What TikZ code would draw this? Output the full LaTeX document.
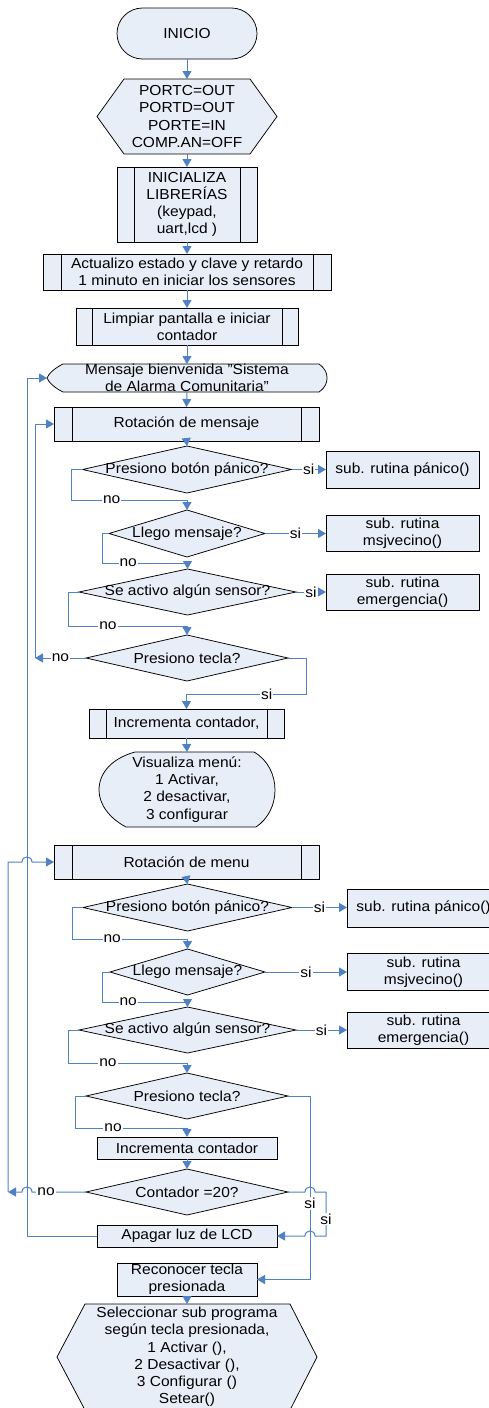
\documentclass[tikz,border=0pt]{standalone}
\usepackage{fontspec}
\setmainfont{Liberation Sans}[FakeStretch=1.07]
\usetikzlibrary{arrows.meta,calc,backgrounds}
\definecolor{shapefill}{RGB}{232,238,248}
\definecolor{flow}{RGB}{79,129,196}
\begin{document}
\begin{tikzpicture}[x=1pt,y=-1pt,
  font=\fontsize{14.5}{17.2}\selectfont,
  nbase/.style={inner sep=0pt, outer sep=0pt, align=center},
  box/.style={nbase, draw=black, line width=0.75pt, fill=shapefill},
  subproc/.style={box, path picture={
      \draw[line width=0.75pt]
        ([xshift=#1]path picture bounding box.north west) -- ([xshift=#1]path picture bounding box.south west)
        ([xshift=-#1]path picture bounding box.north east) -- ([xshift=-#1]path picture bounding box.south east);}},
  subproc/.default=17pt,
  shp/.style={draw=black, line width=0.75pt, fill=shapefill},
  conn/.style={draw=flow, line width=1pt, -{Triangle[length=8pt,width=9pt]}},
  lbl/.style={fill=white, inner sep=1pt}
]
\path[use as bounding box] (0,0) rectangle (488,1408);

% ---------- start-up sequence ----------
\node[box, rounded corners=25.5pt, minimum width=140pt, minimum height=51pt] (inicio) at (187,33.5) {INICIO};
\node[nbase, minimum width=180pt, minimum height=75pt] (ports) at (187,116.5) {PORTC=OUT\\PORTD=OUT\\PORTE=IN\\COMP.AN=OFF};
\node[subproc, minimum width=140pt, minimum height=75pt] (libs) at (187,204.5) {INICIALIZA\\LIBRERÍAS\\(keypad,\\uart,lcd )};
\node[subproc=18pt, minimum width=288pt, minimum height=36pt] (actual) at (187,272) {Actualizo estado y clave y retardo\\1 minuto en iniciar los sensores};
\node[subproc=16pt, minimum width=222pt, minimum height=37pt] (limpiar) at (187,326.5) {Limpiar pantalla e iniciar\\contador};
\node[nbase, minimum width=280pt, minimum height=28pt,
      label={[nbase]center:Mensaje bienvenida "Sistema\\de Alarma Comunitaria"}] (mensaje) at (187,378) {};

% ---------- message loop ----------
\node[subproc=18pt, minimum width=265pt, minimum height=34pt] (rotmsj) at (186.5,424) {Rotación de mensaje};
\node[nbase, minimum width=209pt, minimum height=47pt] (d1) at (187,469.5) {Presiono botón pánico?};
\node[box, minimum width=153pt, minimum height=37pt] (s1) at (402.5,469.5) {sub. rutina pánico()};
\node[nbase, minimum width=156pt, minimum height=47pt] (d2) at (187,533.5) {Llego mensaje?};
\node[box, minimum width=153pt, minimum height=36pt] (s2) at (402.5,533.5) {sub. rutina\\msjvecino()};
\node[nbase, minimum width=217pt, minimum height=46pt] (d3) at (187.5,592) {Se activo algún sensor?};
\node[box, minimum width=153pt, minimum height=36pt] (s3) at (402.5,592) {sub. rutina\\emergencia()};
\node[nbase, minimum width=202pt, minimum height=46pt] (d4) at (187,658) {Presiono tecla?};
\node[subproc=17pt, minimum width=195pt, minimum height=29pt] (incr1) at (186.5,723.5) {Incrementa contador,};
\node[nbase, minimum width=176pt, minimum height=75pt] (visual) at (187,789.5) {Visualiza menú:\\1 Activar,\\2 desactivar,\\3 configurar};

% ---------- menu loop ----------
\node[subproc=18pt, minimum width=265pt, minimum height=34pt] (rotmenu) at (186.5,862) {Rotación de menu};
\node[nbase, minimum width=209pt, minimum height=47pt] (d5) at (187.5,907.5) {Presiono botón pánico?};
\node[box, minimum width=153pt, minimum height=38pt] (s5) at (423.5,908) {sub. rutina pánico()};
\node[nbase, minimum width=155pt, minimum height=46pt] (d6) at (187.5,972) {Llego mensaje?};
\node[box, minimum width=153pt, minimum height=37pt] (s6) at (423.5,972) {sub. rutina\\msjvecino()};
\node[nbase, minimum width=217pt, minimum height=46pt] (d7) at (187.5,1030) {Se activo algún sensor?};
\node[box, minimum width=153pt, minimum height=36pt] (s7) at (423.5,1030) {sub. rutina\\emergencia()};
\node[nbase, minimum width=202pt, minimum height=46pt] (d8) at (187,1096) {Presiono tecla?};
\node[box, minimum width=180pt, minimum height=22pt] (incr2) at (187,1148) {Incrementa contador};
\node[nbase, minimum width=202pt, minimum height=46pt] (d9) at (187,1192) {Contador =20?};
\node[box, minimum width=180pt, minimum height=22pt] (apagar) at (187,1236) {Apagar luz de LCD};
\node[box, minimum width=140pt, minimum height=33pt] (recon) at (187,1279.5) {Reconocer tecla\\presionada};
\node[nbase, minimum width=260pt, minimum height=106pt] (select) at (187,1357) {Seleccionar sub programa\\según tecla presionada,\\1 Activar (),\\2 Desactivar (),\\3 Configurar ()\\Setear()};

% vertical return buses on both sides
\coordinate (busA) at (27,0);
\coordinate (busB) at (35,0);
\coordinate (busC) at (8,0);
\coordinate (busR) at (310,0);
\coordinate (busS) at (326,0);

% ---------- outlines behind the texts ----------
\begin{scope}[on background layer]
  \path[shp] ([xshift=27pt]ports.north west) -- ([xshift=-27pt]ports.north east) -- (ports.east)
     -- ([xshift=-27pt]ports.south east) -- ([xshift=27pt]ports.south west) -- (ports.west) -- cycle;
  \path[shp] ([xshift=28pt]select.north west) -- ([xshift=-27pt]select.north east) -- (select.east)
     -- ([xshift=-27pt]select.south east) -- ([xshift=28pt]select.south west) -- (select.west) -- cycle;
  \foreach \dn in {d1,d2,d3,d4,d5,d6,d7,d8,d9}
    \path[shp] (\dn.north) -- (\dn.east) -- (\dn.south) -- (\dn.west) -- cycle;
  % display symbol of the welcome message
  \path[shp] (63,364) -- (319,364) .. controls (326,369) and (327,374) .. (327,378)
     .. controls (327,382) and (326,387) .. (319,392) -- (63,392)
     .. controls (55,388) and (49,383) .. (47,378) .. controls (49,373) and (55,368) .. (63,364) -- cycle;
  % display symbol of the menu
  \path[shp] (135,752) -- (254,752) .. controls (268,760) and (275,775) .. (275,790)
     .. controls (275,805) and (268,819) .. (256,827) -- (126,827)
     .. controls (109,818) and (99,804) .. (99,790) .. controls (99,772) and (113,758) .. (135,752) -- cycle;
\end{scope}

% ---------- straight flow ----------
\draw[conn] (inicio.south) -- (ports.north);
\draw[conn] (ports.south) -- (libs.north);
\draw[conn] (libs.south) -- (actual.north);
\draw[conn] (actual.south) -- (limpiar.north);
\draw[conn] (limpiar.south) -- (mensaje.north);
\draw[conn] (mensaje.south) -- (rotmsj.north);
\draw[conn] (rotmsj.south) -- (d1.north);
\draw[conn] (incr1.south) -- (visual.north);
\draw[conn] (rotmenu.south) -- (d5.north);
\draw[conn] (incr2.south) -- (d9.north);
\draw[conn] (recon.south) -- (select.north);

% ---------- "si" branches to the subroutines ----------
\draw[conn] (d1.east) -- node[lbl]{si} (s1.west |- d1.east);
\draw[conn] (d2.east) -- node[lbl]{si} (s2.west |- d2.east);
\draw[conn] (d3.east) -- node[lbl]{si} (s3.west |- d3.east);
\draw[conn] (d5.east) -- node[lbl]{si} (s5.west |- d5.east);
\draw[conn] (d6.east) -- node[lbl]{si} (s6.west |- d6.east);
\draw[conn] (d7.east) -- node[lbl]{si} (s7.west |- d7.east);

% ---------- "no" branches to the next question ----------
\draw[conn] (d1.west) -- ++(-11,0) |- node[lbl,pos=0.674]{no} ([yshift=10pt]d2.north) -- (d2.north);
\draw[conn] (d2.west) -- ++(-7,0) |- node[lbl,pos=0.653]{no} ([yshift=6pt]d3.north) -- (d3.north);
\draw[conn] (d3.west) -- ++(-11,0) |- node[lbl,pos=0.668]{no} ([yshift=9pt]d4.north) -- (d4.north);
\draw[conn] (d5.west) -- ++(-11,0) |- node[lbl,pos=0.674]{no} ([yshift=10pt]d6.north) -- (d6.north);
\draw[conn] (d6.west) -- ++(-8,0) |- node[lbl,pos=0.653]{no} ([yshift=5pt]d7.north) -- (d7.north);
\draw[conn] (d7.west) -- ++(-11,0) |- node[lbl,pos=0.668]{no} ([yshift=10pt]d8.north) -- (d8.north);
\draw[conn] (d8.west) -- ++(-11,0) |- node[lbl,pos=0.67]{no} ([yshift=9pt]incr2.north) -- (incr2.north);

% ---------- key pressed in the message loop ----------
\draw[conn] (d4.west) -- node[lbl]{no} (busB |- d4.west);
\draw[conn] (busB |- d4.west) |- (rotmsj.west);
\draw[conn] (d4.east) -- ++(18,0) |- node[lbl,pos=0.664]{si} ([yshift=15pt]incr1.north) -- (incr1.north);

% ---------- counter and key pressed in the menu loop ----------
\draw[conn] (d9.west) -- node[lbl,pos=0.74]{no} (32,1192)
   .. controls (32,1185.3) and (22,1185.3) .. (22,1192) -- (busC |- d9.west);
\draw[conn] (busC |- d9.west) -- (busC |- rotmenu.west) -- (22,862)
   .. controls (22,855.3) and (32,855.3) .. (32,862) -- (rotmenu.west);
\draw[conn] (apagar.west) -- (busA |- apagar.west) |- (mensaje.west);
\draw[conn] (d8.east) -- (busR |- d8.east) -- node[lbl,pos=0.585]{si} (busR |- recon.east) -- (recon.east);
\draw[conn] (d9.east) -- (305,1192) .. controls (305,1185.3) and (315,1185.3) .. (315,1192)
   -- (busS |- d9.east) -- node[lbl,pos=0.61]{si} (busS |- apagar.east) -- (315,1236)
   .. controls (315,1229.3) and (305,1229.3) .. (305,1236) -- (apagar.east);
\end{tikzpicture}
\end{document}
